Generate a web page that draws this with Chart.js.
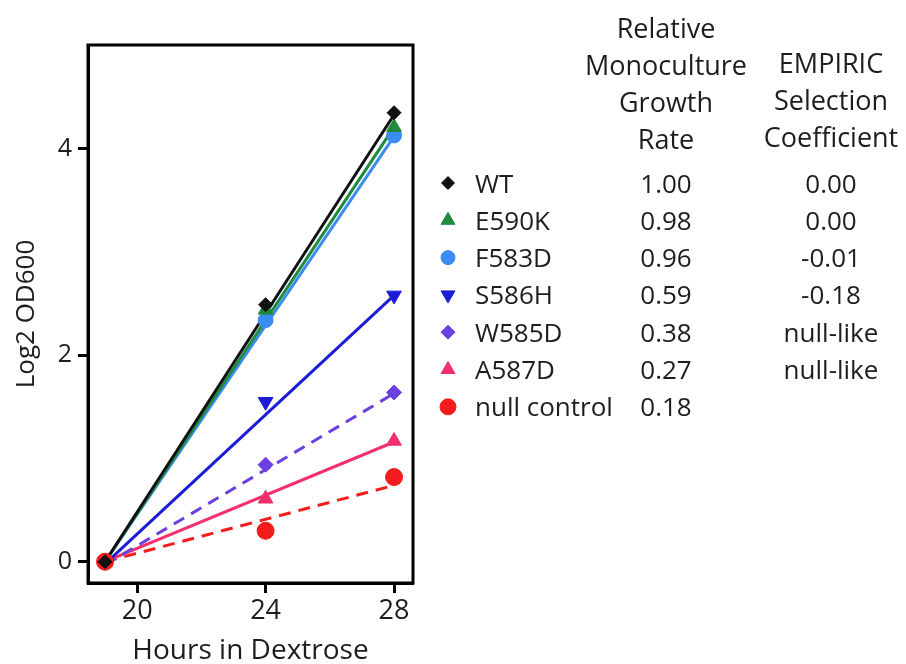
<!DOCTYPE html>
<html>
<head>
<meta charset="utf-8">
<script src="https://cdn.jsdelivr.net/npm/chart.js@4.4.1/dist/chart.umd.min.js"></script>
<style>
  html, body { margin: 0; padding: 0; background: #ffffff; }
  #wrap { position: relative; width: 906px; height: 664px; overflow: hidden; font-family: "Open Sans", sans-serif; color: #1e1c1d; font-weight: 500; }
  #c { position: absolute; left: 0; top: 0; }
  .cell { position: absolute; white-space: nowrap; line-height: 37px; height: 37px; }
  .ctr { transform: translateX(-50%); text-align: center; }
  .hdr { position: absolute; line-height: 37px; text-align: center; transform: translateX(-50%); white-space: nowrap; font-size: 27px; }
</style>
</head>
<body>
<div id="wrap">
  <canvas id="c" width="906" height="664"></canvas>
</div>
<script>
// ---------------- data ----------------
const hours = [19, 24, 28];
const strains = ["WT", "E590K", "F583D", "S586H", "W585D", "A587D", "null control"];
const wtValues = [0, 2.49, 4.35];
const e590kValues = [0, 2.44, 4.21];
const f583dValues = [0, 2.34, 4.13];
const s586hValues = [0, 1.55, 2.58];
const w585dValues = [0, 0.94, 1.64];
const a587dValues = [0, 0.61, 1.17];
const nullValues = [0, 0.30, 0.82];

// fitted lines (start at 19 h, end at 28 h)
const fitHours = [19, 28];
const wtFit = [0, 4.33];
const e590kFit = [0, 4.21];
const f583dFit = [0, 4.12];
const s586hFit = [-0.02, 2.58];
const w585dFit = [-0.03, 1.63];
const a587dFit = [0, 1.16];
const nullFit = [0, 0.74];

const growthRates = ["1.00", "0.98", "0.96", "0.59", "0.38", "0.27", "0.18"];
const selectionCoefficients = ["0.00", "0.00", "-0.01", "-0.18", "null-like", "null-like", ""];

const xTickValues = [20, 24, 28];
const yTickValues = [0, 2, 4];

// ---------------- styles ----------------
const colors = ["#111111", "#1f8a3c", "#3b8cf2", "#1c1cd6", "#6b3fe0", "#f2306e", "#f21c1c"];
const pointStyles = ["rectRot", "triangle", "circle", "triangle", "rectRot", "triangle", "circle"];
const pointRotations = [0, 0, 0, 180, 0, 0, 0];
const pointRadii = [7, 8.5, 7.5, 8.5, 7.5, 8.5, 8.5];
const pointOrders = [0, 3, 4, 5, 6, 7, 1];
const dashes = [[], [], [], [], [12, 8], [], [12, 8]];
const lineWidths = [3, 3, 3, 3, 3, 3, 3];

const pointSeries = [wtValues, e590kValues, f583dValues, s586hValues, w585dValues, a587dValues, nullValues];
const fitSeries = [wtFit, e590kFit, f583dFit, s586hFit, w585dFit, a587dFit, nullFit];

const toXY = (xs, ys) => xs.map((x, i) => ({ x: x, y: ys[i] }));

const datasets = [];
strains.forEach((name, i) => {
  datasets.push({
    label: name,
    data: toXY(hours, pointSeries[i]),
    order: pointOrders[i],
    showLine: false,
    pointStyle: pointStyles[i],
    rotation: pointRotations[i],
    pointRadius: pointRadii[i],
    pointBackgroundColor: colors[i],
    pointBorderColor: colors[i],
    pointBorderWidth: 1,
    backgroundColor: colors[i],
    borderColor: colors[i]
  });
});
strains.forEach((name, i) => {
  datasets.push({
    label: name + " fit",
    data: toXY(fitHours, fitSeries[i]),
    order: 20 + i,
    showLine: true,
    pointRadius: 0,
    borderColor: colors[i],
    borderWidth: lineWidths[i],
    borderDash: dashes[i],
    fill: false
  });
});

// ---------------- layout constants ----------------
const legendMarkerX = 448;
const rowTop = 183;
const rowStep = 37.3;
const labelLeft = 475;
const growthCenter = 666;
const coefCenter = 831;

const boxPlugin = {
  id: "box",
  afterDatasetsDraw(chart) {
    const a = chart.chartArea, ctx = chart.ctx;
    ctx.save();
    ctx.strokeStyle = "#000";
    ctx.lineWidth = 3;
    ctx.strokeRect(a.left, a.top, a.right - a.left, a.bottom - a.top);
    ctx.restore();
  },
  afterDraw(chart) {
    const ctx = chart.ctx;
    strains.forEach((name, i) => {
      const ds = chart.data.datasets[i];
      ctx.save();
      ctx.fillStyle = ds.pointBackgroundColor;
      ctx.strokeStyle = ds.pointBorderColor;
      ctx.lineWidth = 1;
      Chart.helpers.drawPoint(ctx, {
        pointStyle: ds.pointStyle,
        rotation: ds.rotation,
        radius: ds.pointRadius - 0.5,
        borderWidth: 1
      }, legendMarkerX, rowTop + i * rowStep);
      ctx.restore();
    });
  }
};

Chart.defaults.font.family = "'Open Sans', sans-serif";
Chart.defaults.font.weight = "500";
Chart.defaults.color = "#1e1c1d";

new Chart(document.getElementById("c"), {
  type: "scatter",
  data: { datasets: datasets },
  options: {
    responsive: false,
    animation: false,
    devicePixelRatio: 1,
    layout: { padding: { left: 0, top: 45, right: 493, bottom: 0 } },
    plugins: { legend: { display: false }, tooltip: { enabled: false } },
    scales: {
      x: {
        type: "linear",
        min: 18.47,
        max: 28.59,
        afterFit(s) { s.height = 81; },
        afterBuildTicks(s) { s.ticks = xTickValues.map(v => ({ value: v })); },
        grid: { drawOnChartArea: false, drawTicks: true, tickLength: 10, tickWidth: 3, tickColor: "#000" },
        border: { display: true, color: "#000", width: 3 },
        ticks: { font: { size: 27, weight: "500" }, color: "#1e1c1d", padding: 2, maxRotation: 0 },
        title: { display: true, text: "Hours in Dextrose", font: { size: 28, lineHeight: 0.9, weight: "500" }, color: "#1e1c1d", padding: { top: 0, bottom: 0 } }
      },
      y: {
        type: "linear",
        min: -0.206,
        max: 5.006,
        afterFit(s) { s.width = 88; },
        afterBuildTicks(s) { s.ticks = yTickValues.map(v => ({ value: v })); },
        grid: { drawOnChartArea: false, drawTicks: true, tickLength: 10, tickWidth: 3, tickColor: "#000" },
        border: { display: true, color: "#000", width: 3 },
        ticks: { font: { size: 25, weight: "500" }, color: "#1e1c1d", padding: 6 },
        title: { display: true, text: "Log2 OD600", font: { size: 26, weight: "500" }, color: "#1e1c1d", padding: { top: 11, bottom: 0 } }
      }
    }
  },
  plugins: [boxPlugin]
});

// ---------------- table text (real DOM text) ----------------
const wrap = document.getElementById("wrap");
function addDiv(cls, text, left, top, size) {
  const d = document.createElement("div");
  d.className = cls;
  d.textContent = text;
  d.style.left = left + "px";
  d.style.top = top + "px";
  if (size) d.style.fontSize = size + "px";
  wrap.appendChild(d);
  return d;
}
const h1 = addDiv("hdr", "", growthCenter, 8.5);
h1.innerHTML = "Relative<br>Monoculture<br>Growth<br>Rate";
const h2 = addDiv("hdr", "", coefCenter, 43.5);
h2.innerHTML = "EMPIRIC<br>Selection<br>Coefficient";

strains.forEach((name, i) => {
  const top = rowTop + i * rowStep - 18.5;
  addDiv("cell", name, labelLeft, top, 26);
  addDiv("cell ctr", growthRates[i], growthCenter, top, 26);
  if (selectionCoefficients[i]) addDiv("cell ctr", selectionCoefficients[i], coefCenter, top, 26);
});
</script>
</body>
</html>
